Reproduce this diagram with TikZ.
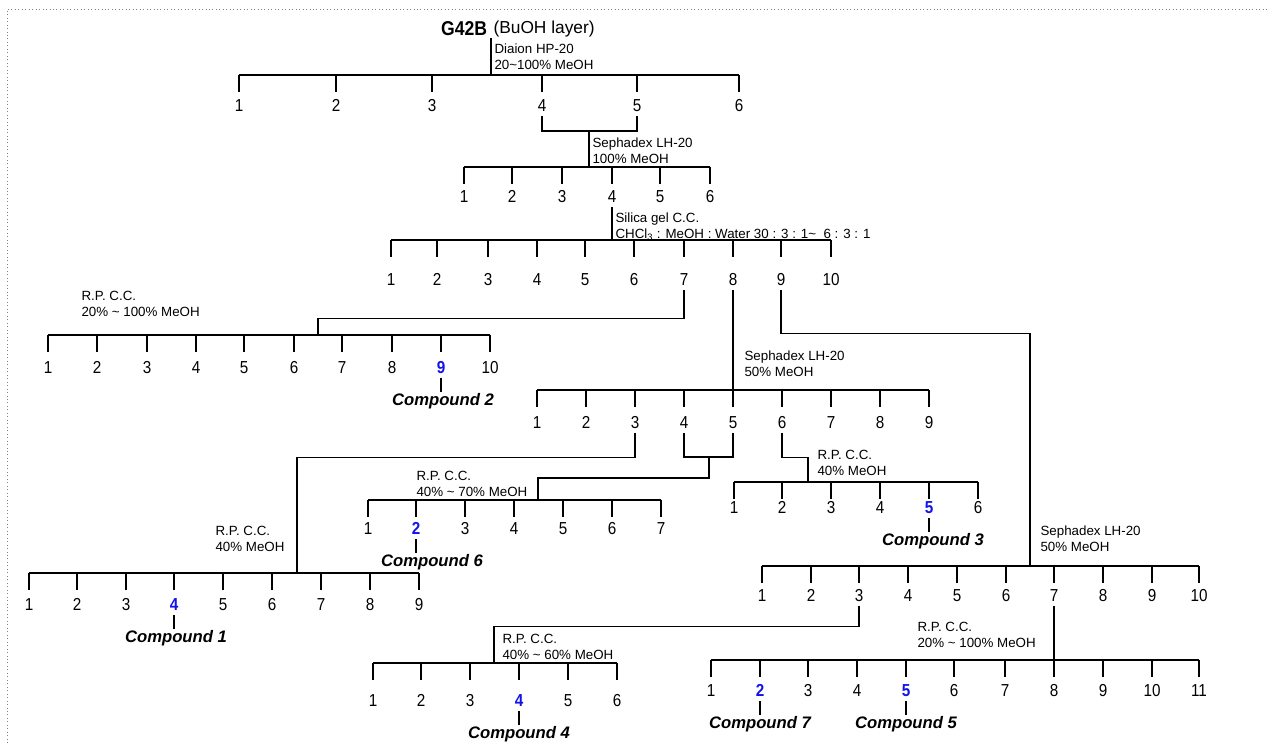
\documentclass[tikz,border=0pt]{standalone}
\usepackage{fontspec}
\setmainfont{Liberation Sans}
\newfontfamily\narrowfont[FakeStretch=0.88]{Liberation Sans}
\usetikzlibrary{positioning}
\definecolor{hitblue}{RGB}{18,18,235}
\tikzset{
  frac/.style={font=\narrowfont\fontsize{13}{15}\selectfont,inner xsep=1pt,inner ysep=3.5pt,text height=9.3pt,text depth=0pt},
  hit/.style={text=hitblue,font=\narrowfont\fontsize{13}{15}\selectfont\bfseries},
  method/.style={font=\fontsize{10}{12}\selectfont,align=left,anchor=north west,inner sep=0pt},
  cpd/.style={font=\fontsize{12.5}{14}\selectfont\bfseries\itshape,inner sep=1pt},
}
% one row of fractions: [options]{name}{bar y}{number y}{x list}
\newcommand{\fractions}[5][]{%
  \begin{scope}[#1]
    \foreach \xx [count=\i] in {#5} {
      \draw (\xx,#3) -- ++(0,17);
      \node[frac,n\i/.try] (#2-\i) at (\xx,#4) {\i};
    }
  \end{scope}}

\begin{document}
\begin{tikzpicture}[x=0.75pt,y=-0.75pt,line width=0.8pt]
  \useasboundingbox (0,0) rectangle (1268,743);
  \draw[gray,dotted,line width=0.6pt] (7,743) -- (7,9) -- (1268,9);

  % starting material
  \node[font=\narrowfont\fontsize{15}{17}\selectfont\bfseries,anchor=east,inner sep=1pt] (g42b) at (489,29) {G42B};
  \node[font=\fontsize{13}{15}\selectfont,anchor=west,inner sep=1pt] (buoh) at ([xshift=2pt]g42b.east) {(BuOH layer)};

  % Diaion HP-20
  \coordinate (dia) at (491,75);
  \draw (dia) -- (dia |- g42b.south);
  \node[method] at (494,43) {Diaion HP-20\\20\textasciitilde100\% MeOH};
  \fractions{dia}{75}{105}{239,336,432,542,637,739}
  \draw (dia-1 |- dia) -- (dia-6 |- dia);

  % Sephadex LH-20, 100% MeOH
  \coordinate (j45) at (589,131);
  \coordinate (lha) at (589,167);
  \draw (dia-4.south) |- (j45) -| (dia-5.south);
  \draw (j45) -- (lha);
  \node[method] at (592,137) {Sephadex LH-20\\100\% MeOH};
  \fractions{lha}{167}{196}{464,512,562,612,660,710}
  \draw (lha-1 |- lha) -- (lha-6 |- lha);

  % Silica gel
  \coordinate (sil) at (612,240);
  \draw (lha-4.south) -- (sil);
  \node[method] at (615,212) {Silica gel C.C.\\CHCl\textsubscript{3} : MeOH : Water 30 : 3 : 1\textasciitilde\ \ 6 : 3 : 1};
  \fractions{sil}{240}{279}{391,437,488,537,585,634,684,733,781,831}
  \draw (sil-1 |- sil) -- (sil-10 |- sil);

  % R.P. C.C. from fr. 7
  \coordinate (rpa) at (318,335);
  \draw (sil-7.south) -- ++(0,28) -| (rpa);
  \node[method] at (81,291) {R.P. C.C.\\20\% \textasciitilde{} 100\% MeOH};
  \fractions[n9/.style=hit]{rpa}{335}{367}{48,97,147,196,244,294,342,392,441,490}
  \draw (rpa-1 |- rpa) -- (rpa-10 |- rpa);
  \node[cpd,below=10pt of rpa-9,xshift=1.5pt] (c2) {Compound 2};
  \draw (rpa-9.south) -- (rpa-9.south |- c2.north);

  % Sephadex LH-20 from fr. 8
  \coordinate (lhb) at (733,390);
  \draw (sil-8.south) -- (lhb);
  \node[method] at (744,350) {Sephadex LH-20\\50\% MeOH};
  \fractions{lhb}{390}{422}{537,586,635,684,733,782,831,880,929}
  \draw (lhb-1 |- lhb) -- (lhb-9 |- lhb);

  % R.P. C.C. from fr. 3
  \coordinate (rpb) at (297,573);
  \draw (lhb-3.south) -- ++(0,24) -| (rpb);
  \node[method] at (215,526) {R.P. C.C.\\40\% MeOH};
  \fractions[n4/.style=hit]{rpb}{573}{604}{29,77,126,174,223,272,321,370,419}
  \draw (rpb-1 |- rpb) -- (rpb-9 |- rpb);
  \node[cpd,below=10pt of rpb-4,xshift=1.5pt] (c1) {Compound 1};
  \draw (rpb-4.south) -- (rpb-4.south |- c1.north);

  % R.P. C.C. from fr. 4-5
  \coordinate (j45b) at (709,457);
  \coordinate (rpc) at (538,500);
  \draw (lhb-4.south) |- (j45b) -| (lhb-5.south);
  \draw (j45b) -- ++(0,21) -| (rpc);
  \node[method] at (416,471) {R.P. C.C.\\40\% \textasciitilde{} 70\% MeOH};
  \fractions[n2/.style=hit]{rpc}{500}{528}{368,416,465,514,563,612,661}
  \draw (rpc-1 |- rpc) -- (rpc-7 |- rpc);
  \node[cpd,below=10pt of rpc-2,xshift=12pt] (c6) {Compound 6};
  \draw (rpc-2.south) -- (rpc-2.south |- c6.north);

  % R.P. C.C. from fr. 6
  \coordinate (rpd) at (808,482);
  \draw (lhb-6.south) -- ++(0,24) -| (rpd);
  \node[method] at (817,450) {R.P. C.C.\\40\% MeOH};
  \fractions[n5/.style=hit]{rpd}{482}{507}{734,782,831,880,929,978}
  \draw (rpd-1 |- rpd) -- (rpd-6 |- rpd);
  \node[cpd,below=10pt of rpd-5,xshift=3pt] (c3) {Compound 3};
  \draw (rpd-5.south) -- (rpd-5.south |- c3.north);

  % Sephadex LH-20 from fr. 9
  \coordinate (lhc) at (1030,566);
  \draw (sil-9.south) -- ++(0,43) -| (lhc);
  \node[method] at (1040,525) {Sephadex LH-20\\50\% MeOH};
  \fractions{lhc}{566}{595}{762,811,859,908,957,1006,1054,1103,1152,1199}
  \draw (lhc-1 |- lhc) -- (lhc-10 |- lhc);

  % R.P. C.C. from fr. 3
  \coordinate (rpe) at (494,663);
  \draw (lhc-3.south) -- ++(0,20) -| (rpe);
  \node[method] at (502,634) {R.P. C.C.\\40\% \textasciitilde{} 60\% MeOH};
  \fractions[n4/.style=hit]{rpe}{663}{700}{373,421,470,519,568,617}
  \draw (rpe-1 |- rpe) -- (rpe-6 |- rpe);
  \node[cpd,below=10pt of rpe-4] (c4) {Compound 4};
  \draw (rpe-4.south) -- (rpe-4.south |- c4.north);

  % R.P. C.C. from fr. 7
  \coordinate (rpf) at (1054,660);
  \draw (lhc-7.south) -- (rpf);
  \node[method] at (917,622) {R.P. C.C.\\20\% \textasciitilde{} 100\% MeOH};
  \fractions[n2/.style=hit,n5/.style=hit]{rpf}{660}{690}{711,760,808,857,906,954,1005,1054,1103,1152,1199}
  \draw (rpf-1 |- rpf) -- (rpf-11 |- rpf);
  \node[cpd,below=10pt of rpf-2] (c7) {Compound 7};
  \draw (rpf-2.south) -- (rpf-2.south |- c7.north);
  \node[cpd,below=10pt of rpf-5] (c5) {Compound 5};
  \draw (rpf-5.south) -- (rpf-5.south |- c5.north);
\end{tikzpicture}
\end{document}
